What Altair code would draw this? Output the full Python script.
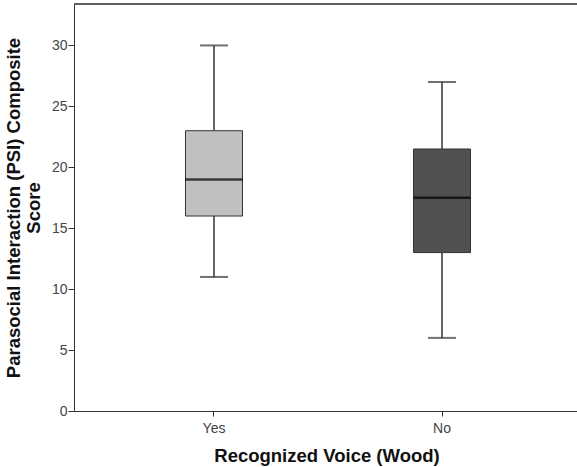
import altair as alt
import pandas as pd

groups = ["Yes", "No"]
lower = [11, 6]
q1 = [16, 13]
median = [19, 17.5]
q3 = [23, 21.5]
upper = [30, 27]
fills = ["#c0c0c0", "#505050"]

df = pd.DataFrame({
    "group": groups, "lower": lower, "q1": q1, "median": median,
    "q3": q3, "upper": upper, "fill": fills,
})

W, H = 503, 407
FONT = "Liberation Sans"

x = alt.X("group:N", sort=groups,
          scale=alt.Scale(paddingInner=0.0, paddingOuter=0.114, range=[0, 508]),
          axis=alt.Axis(title="Recognized Voice (Wood)", labelAngle=0, tickSize=5,
                        labelPadding=5, titlePadding=11, titleFontSize=18.5,
                        titleX=W / 2 + 1,
                        domainColor="#333333", tickColor="#333333"))
y = alt.Y("q1:Q", scale=alt.Scale(domain=[0, 33.4], nice=False, zero=True),
          axis=alt.Axis(title=["Parasocial Interaction (PSI) Composite", "Score"],
                        values=[0, 5, 10, 15, 20, 25, 30], tickSize=6, labelPadding=1,
                        grid=False, titleFontSize=18.5, titleX=-61, titleY=H / 2,
                        titleAngle=-90, titleBaseline="middle", titleAlign="center",
                        titleLineHeight=20,
                        domainColor="#333333", tickColor="#333333"))

base = alt.Chart(df)

whisk_lo = base.mark_rule(color="#333333", strokeWidth=1.5).encode(
    x=x, y=alt.Y("lower:Q"), y2="q1:Q")
whisk_hi = base.mark_rule(color="#333333", strokeWidth=1.5).encode(
    x=x, y=alt.Y("q3:Q"), y2="upper:Q")
box = base.mark_bar(size=57, stroke="#333333", strokeWidth=1).encode(
    x=x, y=y, y2="q3:Q",
    color=alt.Color("fill:N", scale=None, legend=None))
med = base.mark_tick(size=57, thickness=2.5, color="#000000").encode(
    x=x, y=alt.Y("median:Q"))
cap_lo = base.mark_tick(size=28, thickness=2, color="#333333").encode(
    x=x, y=alt.Y("lower:Q"))
cap_hi = base.mark_tick(size=28, thickness=2, color="#333333").encode(
    x=x, y=alt.Y("upper:Q"))
top = alt.Chart(df).mark_rule(color="#555555", strokeWidth=1.5).encode(
    x=alt.value(0), x2=alt.value(W), y=alt.value(0))

chart = alt.layer(whisk_lo, whisk_hi, box, med, cap_lo, cap_hi, top).properties(
    width=W, height=H,
    autosize=alt.AutoSizeParams(type="none"),
    padding={"left": 74, "top": 4, "right": 0, "bottom": 56},
).configure_view(stroke=None).configure_axis(
    labelFont=FONT, titleFont=FONT, labelFontSize=14, labelColor="#444444",
    titleColor="#111111", titleFontWeight="bold",
)

chart.save("out.html", embed_options={"renderer": "svg", "actions": False})
